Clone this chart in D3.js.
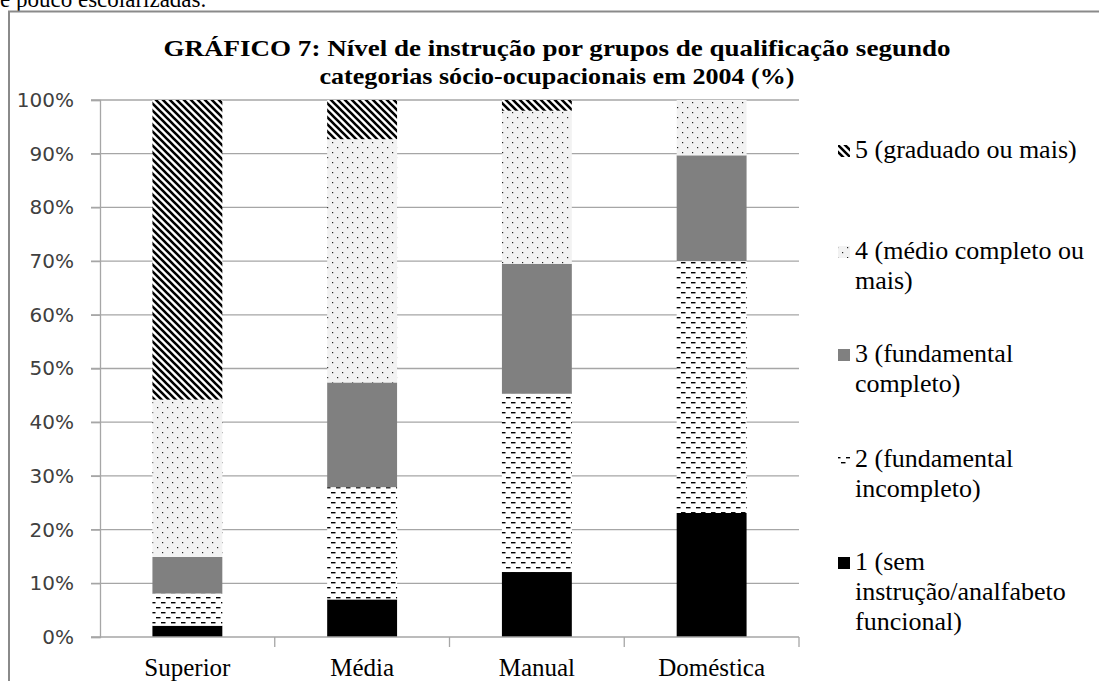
<!DOCTYPE html>
<html><head><meta charset="utf-8">
<script src="https://cdn.jsdelivr.net/npm/d3@7"></script>
<style>html,body{margin:0;padding:0;background:#fff;overflow:hidden}</style>
</head><body>
<svg id="c" width="1099" height="681"></svg>
<script>
const categories = ["Superior", "Média", "Manual", "Doméstica"];
const seriesKeys = ["n1", "n2", "n3", "n4", "n5"];
const seriesLabels = [
  ["1 (sem", "instrução/analfabeto", "funcional)"],
  ["2 (fundamental", "incompleto)"],
  ["3 (fundamental", "completo)"],
  ["4 (médio completo ou", "mais)"],
  ["5 (graduado ou mais)"]
];
const n1 = [2.1, 7.0, 12.1, 23.1];
const n2 = [6.0, 20.9, 33.2, 46.9];
const n3 = [6.8, 19.5, 24.2, 19.7];
const n4 = [29.3, 45.3, 28.5, 10.3];
const n5 = [55.8, 7.3, 2.0, 0.0];
const yTicks = [0, 10, 20, 30, 40, 50, 60, 70, 80, 90, 100];
const titleLines = ["GRÁFICO 7: Nível de instrução por grupos de qualificação segundo",
                    "categorias sócio-ocupacionais em 2004 (%)"];

const rows = categories.map((c, i) => ({cat: c, n1: n1[i], n2: n2[i], n3: n3[i], n4: n4[i], n5: n5[i]}));
const svg = d3.select("#c");
const defs = svg.append("defs");

// pattern 5: diagonal stripes
const p5 = defs.append("pattern").attr("id", "p5").attr("patternUnits", "userSpaceOnUse").attr("width", 7).attr("height", 7);
p5.append("rect").attr("width", 7).attr("height", 7).attr("fill", "#fff");
p5.append("path").attr("d", "M-1,-1L8,8M-1,6L1,8M6,-1L8,1").attr("stroke", "#000").attr("stroke-width", 2.6);
// pattern 4: dots on light gray
const p4 = defs.append("pattern").attr("id", "p4").attr("patternUnits", "userSpaceOnUse").attr("width", 10).attr("height", 10);
p4.append("rect").attr("width", 10).attr("height", 10).attr("fill", "#f2f2f2");
p4.append("rect").attr("x", 2).attr("y", 2).attr("width", 1.2).attr("height", 1.2).attr("fill", "#222");
p4.append("rect").attr("x", 7).attr("y", 7).attr("width", 1.2).attr("height", 1.2).attr("fill", "#222");
// pattern 2: dashes
const p2 = defs.append("pattern").attr("id", "p2").attr("patternUnits", "userSpaceOnUse").attr("width", 10).attr("height", 10);
p2.append("rect").attr("width", 10).attr("height", 10).attr("fill", "#fff");
p2.append("rect").attr("x", 1).attr("y", 2).attr("width", 4.5).attr("height", 1.4).attr("fill", "#000");
p2.append("rect").attr("x", 6).attr("y", 7).attr("width", 4.5).attr("height", 1.4).attr("fill", "#000");
p2.append("rect").attr("x", -4).attr("y", 7).attr("width", 4.5).attr("height", 1.4).attr("fill", "#000");

const fills = {n1: "#000", n2: "url(#p2)", n3: "#808080", n4: "url(#p4)", n5: "url(#p5)"};

// top cut-off text (continuation of page text above the chart)
svg.append("text").attr("x", 0).attr("y", 7).attr("font-family", "Liberation Serif").attr("font-size", 23)
  .attr("fill", "#000").text("e pouco escolarizadas.");

// frame
svg.append("rect").attr("x", 9).attr("y", 11.5).attr("width", 1200).attr("height", 800)
  .attr("fill", "none").attr("stroke", "#8a8a8a").attr("stroke-width", 2);

// title
const titleWidths = [787, 475];
titleLines.forEach((t, i) => {
  svg.append("text").attr("x", 557).attr("y", 56 + i * 28).attr("text-anchor", "middle")
    .attr("font-family", "Liberation Serif").attr("font-weight", "bold").attr("font-size", 24)
    .attr("textLength", titleWidths[i]).attr("lengthAdjust", "spacingAndGlyphs")
    .attr("fill", "#000").text(t);
});

const x = d3.scaleBand().domain(categories).range([100, 799]).paddingInner(0.6).paddingOuter(0.3);
const y = d3.scaleLinear().domain([0, 100]).range([637, 100]);

// gridlines
svg.append("g").selectAll("line").data(yTicks.filter(d => d > 0)).join("line")
  .attr("x1", 91).attr("x2", 799).attr("y1", d => y(d)).attr("y2", d => y(d))
  .attr("stroke", "#a6a6a6").attr("stroke-width", 1.3);

// y axis
const yAxis = svg.append("g").attr("transform", "translate(100,0)")
  .call(d3.axisLeft(y).tickValues(yTicks).tickFormat(d => d + "%").tickSize(9).tickPadding(17));
yAxis.select(".domain").attr("stroke", "#a6a6a6").attr("stroke-width", 1.3);
yAxis.selectAll(".tick line").attr("stroke", "#a6a6a6").attr("stroke-width", 1.3);
yAxis.selectAll("text").attr("font-family", "DejaVu Sans").attr("font-size", 20).attr("fill", "#404040");

// bars
const stack = d3.stack().keys(seriesKeys)(rows);
svg.append("g").selectAll("g").data(stack).join("g").attr("fill", d => fills[d.key])
  .selectAll("rect").data(d => d).join("rect")
  .attr("x", d => x(d.data.cat)).attr("width", x.bandwidth())
  .attr("y", d => y(d[1])).attr("height", d => Math.max(0, y(d[0]) - y(d[1])));

// x axis
const xAxisG = svg.append("g").attr("transform", "translate(0,637)");
xAxisG.append("line").attr("x1", 91).attr("x2", 799).attr("stroke", "#a6a6a6").attr("stroke-width", 1.3);
const bounds = categories.map(c => x(c) - x.step() * x.paddingInner() / 2 + x.step());
xAxisG.selectAll("line.t").data(bounds).join("line").attr("class", "t")
  .attr("x1", d => d).attr("x2", d => d).attr("y1", 0).attr("y2", 10)
  .attr("stroke", "#a6a6a6").attr("stroke-width", 1.3);
xAxisG.selectAll("text").data(categories).join("text")
  .attr("x", d => x(d) + x.bandwidth() / 2).attr("y", 39).attr("text-anchor", "middle")
  .attr("font-family", "Liberation Serif").attr("font-size", 25).attr("fill", "#000").text(d => d);

// legend (top to bottom: 5..1)
const legendTop = [158, 259, 362, 467, 570];
const legendOrder = [4, 3, 2, 1, 0];
const lg = svg.append("g");
legendOrder.forEach((si, i) => {
  const key = seriesKeys[si];
  lg.append("rect").attr("x", 838).attr("y", legendTop[i] - 13).attr("width", 12).attr("height", 12)
    .attr("fill", fills[key]);
  seriesLabels[si].forEach((line, j) => {
    lg.append("text").attr("x", 855).attr("y", legendTop[i] + j * 30)
      .attr("font-family", "Liberation Serif").attr("font-size", 26).attr("fill", "#000").text(line);
  });
});
</script>
</body></html>
